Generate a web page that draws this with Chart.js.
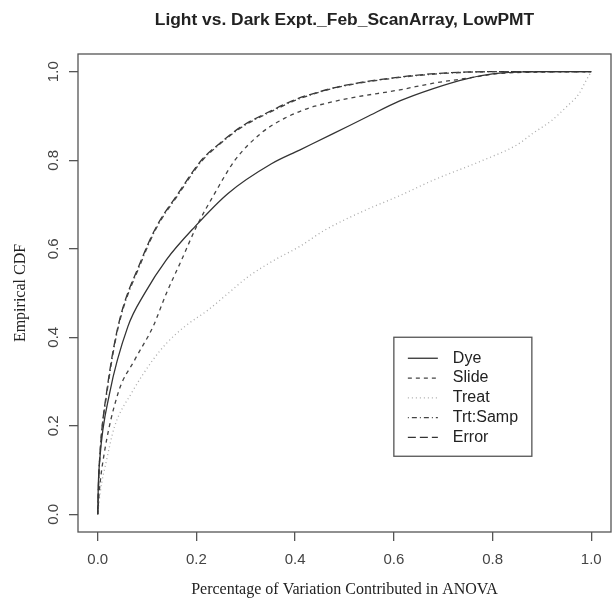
<!DOCTYPE html>
<html>
<head>
<meta charset="utf-8">
<script src="https://cdn.jsdelivr.net/npm/chart.js@4"></script>
<style>
  html, body { margin: 0; padding: 0; background: #fff; }
  #wrap { width: 615px; height: 606px; }
</style>
</head>
<body>
<div id="wrap"><canvas id="myChart" width="615" height="606"></canvas></div>
<script>
// ECDF curves
const dyeX = [0, 0.001, 0.004, 0.024, 0.061, 0.095, 0.139, 0.197, 0.264, 0.352, 0.409, 0.477, 0.544, 0.612, 0.68, 0.747, 0.8, 0.85, 0.9, 1.0];
const dyeY = [0, 0.06, 0.123, 0.273, 0.424, 0.499, 0.575, 0.65, 0.725, 0.792, 0.823, 0.86, 0.897, 0.934, 0.962, 0.984, 0.995, 0.999, 1.0, 1.0];

const slideX = [0, 0.003, 0.011, 0.041, 0.075, 0.112, 0.139, 0.17, 0.2, 0.237, 0.278, 0.332, 0.379, 0.409, 0.44, 0.51, 0.612, 0.68, 0.747, 0.815, 0.9, 1.0];
const slideY = [0, 0.05, 0.123, 0.273, 0.349, 0.424, 0.499, 0.575, 0.65, 0.725, 0.8, 0.862, 0.895, 0.91, 0.922, 0.94, 0.959, 0.974, 0.985, 0.996, 0.999, 1.0];

const treatX = [0, 0.005, 0.018, 0.034, 0.068, 0.112, 0.139, 0.176, 0.224, 0.264, 0.305, 0.359, 0.409, 0.46, 0.544, 0.612, 0.68, 0.781, 0.85, 0.882, 0.92, 0.95, 0.975, 0.99, 1.0];
const treatY = [0, 0.05, 0.123, 0.198, 0.273, 0.349, 0.386, 0.424, 0.462, 0.499, 0.537, 0.575, 0.605, 0.642, 0.688, 0.72, 0.755, 0.8, 0.835, 0.861, 0.89, 0.921, 0.95, 0.981, 1.0];

const trtX = [0, 0.002, 0.006, 0.018, 0.041, 0.089, 0.119, 0.163, 0.21, 0.247, 0.291, 0.352, 0.4, 0.45, 0.5, 0.612, 0.7, 0.8, 1.0];
const trtY = [0, 0.08, 0.16, 0.27, 0.42, 0.572, 0.647, 0.722, 0.797, 0.836, 0.874, 0.91, 0.935, 0.954, 0.968, 0.987, 0.996, 1.0, 1.0];

const errX = [0, 0.002, 0.006, 0.0176, 0.041, 0.0885, 0.119, 0.163, 0.21, 0.247, 0.291, 0.352, 0.4, 0.45, 0.5, 0.612, 0.7, 0.8, 1.0];
const errY = [0, 0.08, 0.16, 0.273, 0.424, 0.575, 0.65, 0.725, 0.8, 0.838, 0.876, 0.912, 0.937, 0.955, 0.969, 0.988, 0.997, 1.0, 1.0];

const tickValues = [0, 0.2, 0.4, 0.6, 0.8, 1.0];
const seriesNames = ["Dye", "Slide", "Treat", "Trt:Samp", "Error"];

const titleText = "Light vs. Dark Expt._Feb_ScanArray, LowPMT";
const xTitle = "Percentage of Variation Contributed in ANOVA";
const yTitle = "Empirical CDF";

function toPoints(xs, ys) {
  return xs.map((x, i) => ({ x: x, y: ys[i] }));
}

const styles = [
  { color: "#333", dash: [] },
  { color: "#444", dash: [4, 4] },
  { color: "#aaa", dash: [1, 3] },
  { color: "#444", dash: [1, 3, 5, 3] },
  { color: "#333", dash: [8, 4] },
];

const allX = [dyeX, slideX, treatX, trtX, errX];
const allY = [dyeY, slideY, treatY, trtY, errY];

const datasets = seriesNames.map((name, i) => ({
  label: name,
  data: toPoints(allX[i], allY[i]),
  borderColor: styles[i].color,
  borderDash: styles[i].dash,
  borderWidth: 1.3,
  pointRadius: 0,
  showLine: true,
  fill: false,
  cubicInterpolationMode: "monotone",
}));

// box, titles and the R-style legend
const decor = {
  id: "decor",
  afterDraw(chart) {
    const ctx = chart.ctx;
    const a = chart.chartArea;
    const xs = chart.scales.x;
    const ys = chart.scales.y;
    ctx.save();
    ctx.strokeStyle = "#555";
    ctx.lineWidth = 1.3;
    ctx.strokeRect(a.left, a.top, a.right - a.left, a.bottom - a.top);

    ctx.fillStyle = "#222";
    ctx.textAlign = "center";
    ctx.textBaseline = "middle";
    ctx.font = "bold 17.4px 'Liberation Sans', Arial, sans-serif";
    ctx.fillText(titleText, (a.left + a.right) / 2, 20);

    ctx.font = "16px 'Liberation Serif', 'Times New Roman', serif";
    ctx.fillText(xTitle, (a.left + a.right) / 2, 590);
    ctx.save();
    ctx.translate(21, (a.top + a.bottom) / 2);
    ctx.rotate(-Math.PI / 2);
    ctx.fillText(yTitle, 0, 0);
    ctx.restore();

    // legend
    const lx = xs.getPixelForValue(0.6);
    const ly = ys.getPixelForValue(0.4);
    const lw = 138, lh = 119, row = 19.8;
    ctx.strokeStyle = "#555";
    ctx.lineWidth = 1.3;
    ctx.strokeRect(lx, ly, lw, lh);
    ctx.font = "16px 'Liberation Sans', Arial, sans-serif";
    ctx.textAlign = "left";
    chart.data.datasets.forEach((ds, i) => {
      const cy = ly + 21 + i * row;
      ctx.beginPath();
      ctx.setLineDash(ds.borderDash);
      ctx.strokeStyle = ds.borderColor;
      ctx.lineWidth = 1.3;
      ctx.moveTo(lx + 14, cy);
      ctx.lineTo(lx + 44, cy);
      ctx.stroke();
      ctx.setLineDash([]);
      ctx.fillStyle = "#222";
      ctx.fillText(ds.label, lx + 59, cy);
    });
    ctx.restore();
  },
};

const axisTicks = (scale) => {
  scale.ticks = tickValues.map((v) => ({ value: v }));
};

new Chart("myChart", {
  type: "scatter",
  data: { datasets: datasets },
  options: {
    responsive: false,
    animation: false,
    layout: { padding: { top: 54, right: 4, left: 0, bottom: 0 } },
    plugins: { legend: { display: false }, tooltip: { enabled: false } },
    scales: {
      x: {
        type: "linear",
        min: -0.04,
        max: 1.04,
        afterBuildTicks: axisTicks,
        afterFit: (s) => { s.height = 74; },
        grid: { drawOnChartArea: false, drawTicks: true, tickLength: 9, color: "#555", lineWidth: 1.3 },
        border: { display: false },
        ticks: {
          padding: 10,
          color: "#444",
          font: { family: "'Liberation Sans', Arial, sans-serif", size: 15 },
          callback: (v) => v.toFixed(1),
          maxRotation: 0,
        },
      },
      y: {
        type: "linear",
        min: -0.04,
        max: 1.04,
        afterBuildTicks: axisTicks,
        afterFit: (s) => { s.width = 78; },
        grid: { drawOnChartArea: false, drawTicks: true, tickLength: 9, color: "#555", lineWidth: 1.3 },
        border: { display: false },
        ticks: {
          padding: 5,
          color: "#444",
          crossAlign: "center",
          minRotation: 90,
          maxRotation: 90,
          font: { family: "'Liberation Sans', Arial, sans-serif", size: 15 },
          callback: (v) => v.toFixed(1),
        },
      },
    },
  },
  plugins: [decor],
});
</script>
</body>
</html>
